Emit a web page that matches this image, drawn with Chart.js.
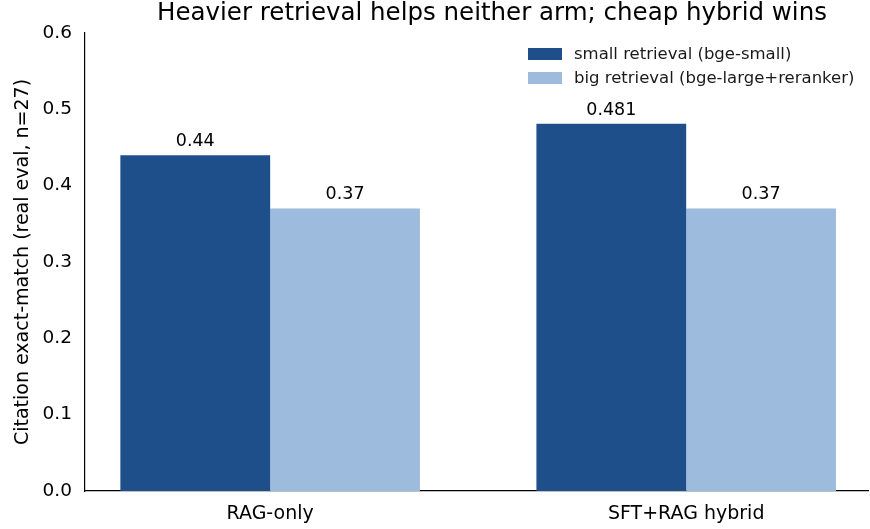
<!DOCTYPE html>
<html>
<head>
<meta charset="utf-8">
<script src="https://cdn.jsdelivr.net/npm/chart.js@4/dist/chart.umd.min.js"></script>
<style>
  html, body { margin: 0; padding: 0; background: #fff; }
  #wrap { width: 870px; height: 529px; position: relative; }
</style>
</head>
<body>
<div id="wrap"><canvas id="c"></canvas></div>
<script>
// 資料
const categories = ['RAG-only', 'SFT+RAG hybrid'];
const smallRetrieval = [0.44, 0.481];
const bigRetrieval = [0.37, 0.37];
const seriesNames = ['small retrieval (bge-small)', 'big retrieval (bge-large+reranker)'];
const yTicks = [0, 0.1, 0.2, 0.3, 0.4, 0.5, 0.6];

const FONT = "'DejaVu Sans', sans-serif";
const colors = ['#1f4f8b', '#9dbcdd'];

// 標題、圖例、數值標籤
const decor = {
  id: 'decor',
  afterDatasetsDraw(chart) {
    const ctx = chart.ctx;
    ctx.save();
    // 數值
    ctx.fillStyle = '#000';
    ctx.font = `17.5px ${FONT}`;
    ctx.textAlign = 'center';
    ctx.textBaseline = 'bottom';
    chart.data.datasets.forEach((ds, i) => {
      chart.getDatasetMeta(i).data.forEach((bar, j) => {
        ctx.fillText(String(ds.data[j].y), bar.x, bar.y - 5);
      });
    });
    // 標題
    ctx.font = `24.5px ${FONT}`;
    ctx.textBaseline = 'middle';
    ctx.fillText('Heavier retrieval helps neither arm; cheap hybrid wins', 492, 14);
    // 圖例
    ctx.font = `16.5px ${FONT}`;
    ctx.textAlign = 'left';
    seriesNames.forEach((name, i) => {
      const y = 54 + i * 24;
      ctx.fillStyle = colors[i];
      ctx.fillRect(528, y - 6, 34, 12);
      ctx.fillStyle = '#1a1a1a';
      ctx.fillText(name, 574, y + 1);
    });
    ctx.restore();
  }
};

new Chart(document.getElementById('c'), {
  type: 'bar',
  data: {
    datasets: [
      { label: seriesNames[0], data: categories.map((c, i) => ({ x: i, y: smallRetrieval[i] })), backgroundColor: colors[0] },
      { label: seriesNames[1], data: categories.map((c, i) => ({ x: i, y: bigRetrieval[i] })), backgroundColor: colors[1] }
    ]
  },
  options: {
    responsive: true,
    maintainAspectRatio: false,
    animation: false,
    events: [],
    layout: { padding: { top: 33, right: 2, left: 0, bottom: 0 } },
    categoryPercentage: 0.72,
    barPercentage: 1.0,
    plugins: { legend: { display: false }, tooltip: { enabled: false }, title: { display: false } },
    scales: {
      x: {
        type: 'linear',
        offset: false,
        min: -0.445,
        max: 1.437,
        afterBuildTicks: s => { s.ticks = categories.map((c, i) => ({ value: i })); },
        afterFit: s => { s.height = 38; },
        grid: { display: false, offset: false, drawTicks: true, tickLength: 5, tickColor: '#000' },
        border: { display: true, color: '#000', width: 1.2 },
        ticks: {
          color: '#000',
          font: { family: FONT, size: 19 },
          padding: 7,
          maxRotation: 0,
          callback: v => categories[v]
        }
      },
      y: {
        min: 0,
        max: 0.6,
        afterBuildTicks: s => { s.ticks = yTicks.map(v => ({ value: v })); },
        afterFit: s => { s.width = 85; },
        grid: { display: false, drawTicks: true, tickLength: 5, tickColor: '#000' },
        border: { display: true, color: '#000', width: 1.2 },
        title: {
          display: true,
          text: 'Citation exact-match (real eval, n=27)',
          color: '#000',
          font: { family: FONT, size: 19 },
          padding: { top: 12, bottom: 0 }
        },
        ticks: {
          color: '#000',
          font: { family: FONT, size: 18.5 },
          padding: 8,
          callback: v => v.toFixed(1)
        }
      }
    }
  },
  plugins: [decor]
});
</script>
</body>
</html>
